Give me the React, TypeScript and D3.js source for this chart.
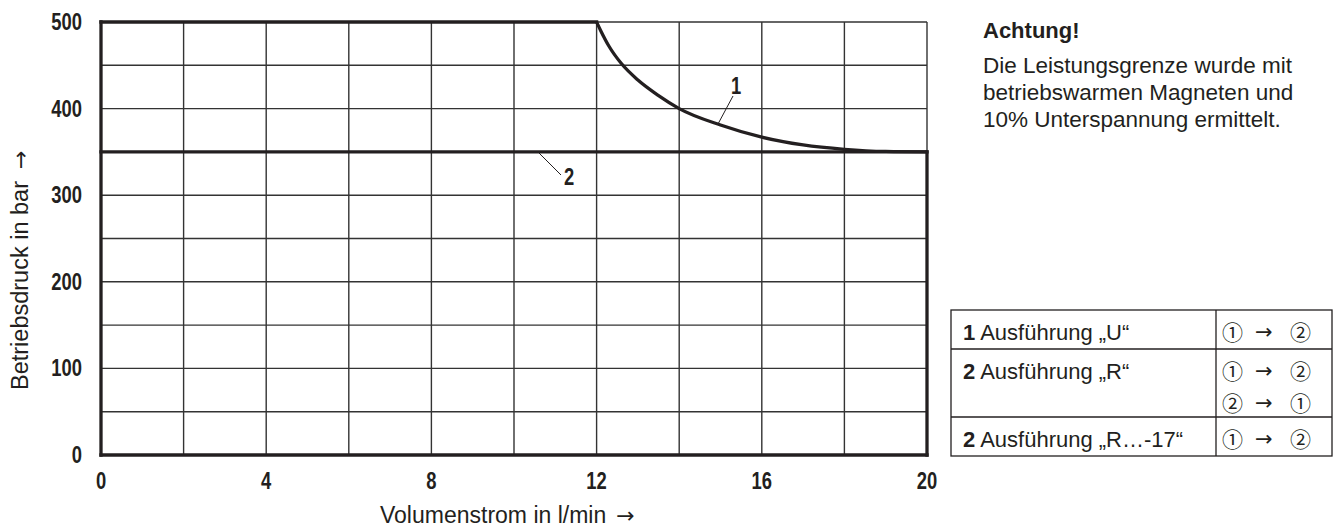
import React, { useEffect } from "react";
import * as d3 from "d3";

const xTicks = [0, 4, 8, 12, 16, 20];
const yTicks = [0, 100, 200, 300, 400, 500];
const xGrid = [0, 2, 4, 6, 8, 10, 12, 14, 16, 18, 20];
const yGrid = [0, 50, 100, 150, 200, 250, 300, 350, 400, 450, 500];

// Curve 1 (Ausführung "U")
const curve1X = [0, 12, 12.1, 12.3, 12.6, 13, 13.5, 14, 15, 16, 17, 18, 19, 20];
const curve1Y = [500, 500, 490, 472, 452, 433, 415, 400, 381, 367, 358, 353, 350.5, 350];
// Curve 2 (Ausführung "R")
const curve2X = [0, 20];
const curve2Y = [350, 350];

const noteTitle = "Achtung!";
const noteLines = [
  "Die Leistungsgrenze wurde mit",
  "betriebswarmen Magneten und",
  "10% Unterspannung ermittelt.",
];
const tableNums = ["1", "2", "2"];
const tableNames = ["Ausführung „U“", "Ausführung „R“", "Ausführung „R…-17“"];
const tableFlows = [[["①", "②"]], [["①", "②"], ["②", "①"]], [["①", "②"]]];
const xTitle = "Volumenstrom in l/min";
const yTitle = "Betriebsdruck in bar";

const W = 1341;
const H = 528;
const M = { left: 101, right: 927, top: 22, bottom: 455 };
const FONT = "'Liberation Sans', Arial, Helvetica, sans-serif";
const SYM = "'DejaVu Sans', sans-serif";
const CJK = "'Noto Sans CJK JP', 'Noto Sans CJK SC', 'DejaVu Sans', sans-serif";
const INK = "#231f20";

function CondText({ x, y, anchor, children }: { x: number; y: number; anchor: string; children: any }) {
  return (
    <g transform={`translate(${x},${y}) scale(0.8,1)`}>
      <text x={0} y={0} textAnchor={anchor} fontFamily={FONT} fontWeight="bold" fontSize={23} fill={INK}>
        {children}
      </text>
    </g>
  );
}

export default function App() {
  useEffect(() => {
    document.body.style.margin = "0";
  }, []);

  const x = d3.scaleLinear().domain([0, 20]).range([M.left, M.right]);
  const y = d3.scaleLinear().domain([0, 500]).range([M.bottom, M.top]);

  const top = curve1X.slice(0, 2).map((v, i) => [v, curve1Y[i]] as [number, number]);
  const tail = curve1X.slice(1).map((v, i) => [v, curve1Y[i + 1]] as [number, number]);
  const lin = d3.line<[number, number]>().x((d) => x(d[0])).y((d) => y(d[1]));
  const smooth = d3
    .line<[number, number]>()
    .x((d) => x(d[0]))
    .y((d) => y(d[1]))
    .curve(d3.curveMonotoneX);
  const c2 = curve2X.map((v, i) => [v, curve2Y[i]] as [number, number]);

  // Table geometry
  const tL = 951, tR = 1332, tC = 1216;
  const rowLines = [310, 349, 417, 456];

  return (
    <svg width={W} height={H} style={{ display: "block", background: "#fff" }}>
      {/* grid */}
      <g stroke="#333" strokeWidth={1.4}>
        {xGrid.map((g) => (
          <line key={"x" + g} x1={x(g)} x2={x(g)} y1={y(0)} y2={y(500)} />
        ))}
        {yGrid.map((g) => (
          <line key={"y" + g} x1={x(0)} x2={x(20)} y1={y(g)} y2={y(g)} />
        ))}
      </g>
      {/* thick frame parts */}
      <g stroke={INK} strokeWidth={3.3} fill="none" strokeLinecap="square">
        <line x1={x(0)} x2={x(0)} y1={y(0)} y2={y(500)} />
        <line x1={x(0)} x2={x(20)} y1={y(0)} y2={y(0)} />
        <line x1={x(20)} x2={x(20)} y1={y(0)} y2={y(350)} />
        <path d={lin(c2) || ""} />
        <path d={lin(top) || ""} />
        <path d={smooth(tail) || ""} strokeLinecap="butt" />
      </g>
      {/* labels 1 and 2 with leaders */}
      <line x1={733} y1={96} x2={718} y2={124} stroke={INK} strokeWidth={1} />
      <CondText x={736} y={94} anchor="middle">1</CondText>
      <line x1={539} y1={153} x2={561} y2={175} stroke={INK} strokeWidth={1} />
      <CondText x={569} y={185} anchor="middle">2</CondText>

      {/* tick labels */}
      {yTicks.map((t) => (
        <CondText key={"yt" + t} x={82} y={y(t) + 8} anchor="end">{t}</CondText>
      ))}
      {xTicks.map((t) => (
        <CondText key={"xt" + t} x={x(t)} y={489} anchor="middle">{t}</CondText>
      ))}
      {/* axis titles */}
      <text x={380} y={523} fontFamily={FONT} fontSize={23} fill={INK}>
        {xTitle}
        <tspan fontFamily={SYM} fontSize={22} dx={10}>→</tspan>
      </text>
      <text transform="translate(28,390) rotate(-90)" fontFamily={FONT} fontSize={23.5} fill={INK}>
        {yTitle}
        <tspan fontFamily={SYM} fontSize={22} dx={12}>→</tspan>
      </text>

      {/* note */}
      <text x={983} y={38} fontFamily={FONT} fontWeight="bold" fontSize={22} fill={INK}>{noteTitle}</text>
      {noteLines.map((l, i) => (
        <text key={"n" + i} x={983} y={73 + i * 27} fontFamily={FONT} fontSize={22.5} fill={INK}>{l}</text>
      ))}

      {/* table */}
      <g stroke={INK} strokeWidth={1.3} fill="none">
        <rect x={tL} y={rowLines[0]} width={tR - tL} height={rowLines[3] - rowLines[0]} />
        <line x1={tC} x2={tC} y1={rowLines[0]} y2={rowLines[3]} />
        <line x1={tL} x2={tR} y1={rowLines[1]} y2={rowLines[1]} />
        <line x1={tL} x2={tR} y1={rowLines[2]} y2={rowLines[2]} />
      </g>
      {tableNames.map((n, i) => (
        <text key={"tn" + i} x={963} y={rowLines[i] + 30} fontFamily={FONT} fontSize={22} fill={INK}>
          <tspan fontWeight="bold">{tableNums[i]}</tspan> {n}
        </text>
      ))}
      {tableFlows.map((fl, i) =>
        fl.map((f, j) => (
          <text key={"tf" + i + j} y={rowLines[i] + 30 + j * 32} fontFamily={CJK} fontSize={21} fill={INK}>
            <tspan x={1222}>{f[0]}</tspan>
            <tspan x={1255} fontFamily={SYM} fontSize={21} dy={-1}>→</tspan>
            <tspan x={1290} dy={1}>{f[1]}</tspan>
          </text>
        ))
      )}
    </svg>
  );
}
